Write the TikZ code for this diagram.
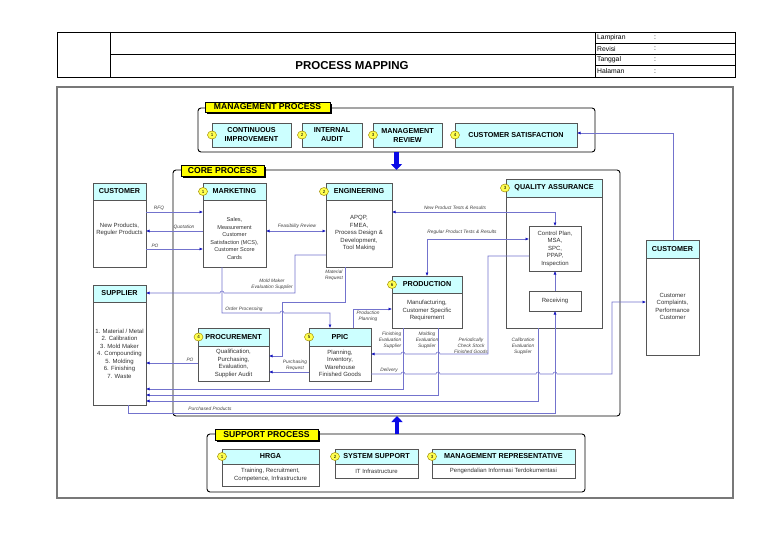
\documentclass[tikz,border=0pt]{standalone}
\usepackage{fontspec}
\setmainfont{Liberation Sans}
\usetikzlibrary{arrows.meta,shapes.geometric,shadows}
\definecolor{hdrcyan}{RGB}{204,255,255}
\definecolor{boxgray}{RGB}{85,85,85}
\definecolor{linecol}{RGB}{115,115,205}
\definecolor{arrblue}{RGB}{20,20,190}
\definecolor{numfill}{RGB}{255,255,80}
\definecolor{numborder}{RGB}{160,140,0}
\definecolor{labyellow}{RGB}{255,255,0}
\definecolor{bigblue}{RGB}{10,10,230}
\definecolor{framegray}{RGB}{120,120,120}
\newcommand\fsz[2]{\fontsize{#1}{#2}\selectfont}
\begin{document}
\begin{tikzpicture}[x=1pt,y=-1pt,
  hdr/.style={draw=boxgray, line width=0.8pt, fill=hdrcyan, font=\bfseries\fsz{7.2}{8.5}, inner sep=0pt, outer sep=0pt, align=center},
  bodyb/.style={draw=boxgray, line width=0.8pt, fill=white, font=\fsz{6}{7.5}, text=black!80, inner sep=0pt, outer sep=0pt, align=center},
  mbox/.style={draw=boxgray, line width=0.8pt, fill=hdrcyan, font=\bfseries\fsz{7.2}{9}, inner sep=0pt, outer sep=0pt, align=center},
  container/.style={draw=black, line width=0.9pt, rounded corners=3pt, inner sep=0pt, outer sep=0pt},
  lab/.style={draw=black, line width=0.6pt, fill=labyellow, font=\bfseries\fsz{8.6}{9}, inner sep=0pt, outer sep=0pt,
     drop shadow={shadow xshift=1.6pt, shadow yshift=-1.6pt, fill=black, opacity=1}},
  numc/.style={ellipse, draw=numborder, line width=0.5pt, fill=numfill, minimum width=9pt, minimum height=8pt, inner sep=0pt, font=\fsz{4.5}{5}},
  clabel/.style={font=\itshape\fsz{4.8}{5.9}, text=black!75, inner sep=0pt, align=center},
  conn/.style={draw=linecol, line width=0.55pt},
  arr/.style={-{Latex[length=3.5pt,width=3pt,color=arrblue]}},
  darr/.style={{Latex[length=3.5pt,width=3pt,color=arrblue]}-{Latex[length=3.5pt,width=3pt,color=arrblue]}},
  bigarr/.style={draw=bigblue, line width=4.5pt, -{Triangle[length=6pt,width=11pt,color=bigblue]}},
  htext/.style={font=\fsz{6.8}{7}, inner sep=0pt, anchor=west}
]
\useasboundingbox (0,0) rectangle (768,543);
\fill[white] (0,0) rectangle (768,543);

% ---------- header table ----------
\draw[line width=0.8pt] (57,32) rectangle (735,77);
\draw[line width=0.8pt] (110,32) -- (110,77);
\draw[line width=0.8pt] (595,32) -- (595,77);
\draw[line width=0.8pt] (110,54.5) -- (595,54.5);
\draw[line width=0.6pt] (595,43) -- (735,43) (595,54.5) -- (735,54.5) (595,65.5) -- (735,65.5);
\node[htext] (t-lam) at (597,37.5) {Lampiran};
\node[htext] (t-rev) at (597,48.75) {Revisi};
\node[htext] (t-tgl) at (597,60) {Tanggal};
\node[htext] (t-hal) at (597,71.25) {Halaman};
\node[htext] (c-lam) at (654,37.5) {:};
\node[htext] (c-rev) at (654,48.75) {:};
\node[htext] (c-tgl) at (654,60) {:};
\node[htext] (c-hal) at (654,71.25) {:};
\node[font=\bfseries\fsz{11.5}{12}, inner sep=0pt] (title) at (352,66) {PROCESS MAPPING};

% ---------- outer frame ----------
\draw[framegray, line width=1.2pt] (57,87) rectangle (733,498);

% ---------- containers ----------
\node[container, minimum width=397pt, minimum height=44pt] (mgmtbox) at (396.5,130) {};
\node[container, minimum width=447pt, minimum height=246pt] (core) at (396.5,293) {};
\node[container, minimum width=378pt, minimum height=58pt] (supbox) at (396,463) {};
\node[lab, minimum width=125pt, minimum height=10pt] (mlab) at (267.5,107) {MANAGEMENT PROCESS};
\node[lab, minimum width=83pt, minimum height=11pt] (clab) at (222.5,170.5) {CORE PROCESS};
\node[lab, minimum width=103pt, minimum height=11pt] (slab) at (266.5,434.5) {SUPPORT PROCESS};

% big arrows
\draw[bigarr] (mgmtbox.south -| 396.5,0) -- (core.north -| 396.5,0);
\draw[bigarr] (supbox.north -| 397,0) -- (core.south -| 397,0);

% ---------- management process ----------
\node[mbox, minimum width=79pt, minimum height=24pt] (ci) at (251.5,135) {CONTINUOUS\\IMPROVEMENT};
\node[mbox, minimum width=60pt, minimum height=24pt] (ia) at (332,135) {INTERNAL\\AUDIT};
\node[mbox, minimum width=69pt, minimum height=24pt] (mr) at (407.5,135) {MANAGEMENT\\REVIEW};
\node[mbox, minimum width=122pt, minimum height=24pt] (cs) at (516,135) {CUSTOMER SATISFACTION};
\node[numc] (n-ci) at (212,135) {1};
\node[numc] (n-ia) at (302,135) {2};
\node[numc] (n-mr) at (373,135) {3};
\node[numc] (n-cs) at (455,135) {4};

% ---------- core process boxes ----------
\node[hdr, minimum width=53pt, minimum height=17pt] (custLh) at (119.5,191.5) {CUSTOMER};
\node[bodyb, minimum width=53pt, minimum height=67pt] (custL) at (119.5,233.5) {New Products,\\Reguler Products\\[2pt]};

\node[hdr, minimum width=63pt, minimum height=17pt] (mkth) at (234.5,191.5) {MARKETING};
\node[bodyb, minimum width=63pt, minimum height=67pt, font=\fsz{5.6}{7.5}] (mkt) at (234.5,233.5) {\\[7pt]Sales,\\Measurement\\Customer\\Satisfaction (MCS),\\Customer Score\\Cards};
\node[numc] (n-mkt) at (203,191.5) {1};

\node[hdr, minimum width=66pt, minimum height=17pt] (engh) at (359,191.5) {ENGINEERING};
\node[bodyb, minimum width=66pt, minimum height=67pt] (eng) at (359,233.5) {APQP,\\FMEA,\\Process Design \&\\Development,\\Tool Making};
\node[numc] (n-eng) at (324,191.5) {2};

\node[hdr, minimum width=96pt, minimum height=18pt] (qah) at (554,188) {QUALITY ASSURANCE};
\node[bodyb, minimum width=96pt, minimum height=131pt] (qa) at (554,262.5) {};
\node[numc] (n-qa) at (505,188) {3};
\node[bodyb, minimum width=52pt, minimum height=45pt] (cp) at (555,248.5) {Control Plan,\\MSA,\\SPC,\\PPAP,\\Inspection};
\node[bodyb, minimum width=52pt, minimum height=20pt] (recv) at (555,301) {Receiving};

\node[hdr, minimum width=70pt, minimum height=17pt] (prodh) at (427,284.5) {PRODUCTION};
\node[bodyb, minimum width=70pt, minimum height=35pt] (prod) at (427,310.5) {Manufacturing,\\Customer Specific\\Requirement};
\node[numc] (n-prod) at (392,284.5) {6};

\node[hdr, minimum width=53pt, minimum height=18pt] (custRh) at (672.5,249) {CUSTOMER};
\node[bodyb, minimum width=53pt, minimum height=97pt] (custR) at (672.5,306.5) {Customer\\Complaints,\\Performance\\Customer};

\node[hdr, minimum width=53pt, minimum height=17pt] (supph) at (119.5,293.5) {SUPPLIER};
\node[bodyb, minimum width=53pt, minimum height=103pt] (supp) at (119.5,353.5) {1. Material / Metal\\2. Calibration\\3. Mold Maker\\4. Compounding\\5. Molding\\6. Finishing\\7. Waste};

\node[hdr, minimum width=71pt, minimum height=18pt] (proch) at (233.5,337) {PROCUREMENT};
\node[bodyb, minimum width=71pt, minimum height=35pt] (proc) at (233.5,363.5) {Qualification,\\Purchasing,\\Evaluation,\\Supplier Audit};
\node[numc] (n-proc) at (198.5,337) {4};

\node[hdr, minimum width=62pt, minimum height=18pt] (ppich) at (340,337) {PPIC};
\node[bodyb, minimum width=62pt, minimum height=35pt] (ppic) at (340,363.5) {Planning,\\Inventory,\\Warehouse\\Finished Goods};
\node[numc] (n-ppic) at (309,337) {5};

% ---------- support process ----------
\node[hdr, minimum width=97pt, minimum height=15pt] (hrgah) at (270.5,456.5) {HRGA};
\node[bodyb, minimum width=97pt, minimum height=22pt] (hrga) at (270.5,475) {Training, Recruitment,\\Competence, Infrastructure};
\node[numc] (n-hrga) at (222,456.5) {1};
\node[hdr, minimum width=83pt, minimum height=15pt] (ssh) at (376.5,456.5) {SYSTEM SUPPORT};
\node[bodyb, minimum width=83pt, minimum height=14pt] (ss) at (376.5,471) {IT Infrastructure};
\node[numc] (n-ss) at (335,456.5) {2};
\node[hdr, minimum width=143pt, minimum height=15pt] (mrh) at (503.5,456.5) {MANAGEMENT REPRESENTATIVE};
\node[bodyb, minimum width=143pt, minimum height=14pt] (mrep) at (503.5,471) {Pengendalian Informasi Terdokumentasi};
\node[numc] (n-mrep) at (432,456.5) {3};

% ---------- connectors ----------
\draw[conn,arr] (custL.east |- 0,212) -- (mkt.west |- 0,212);
\draw[conn,arr] (mkt.west |- 0,231) -- (custL.east |- 0,231);
\draw[conn,arr] (custL.east |- 0,249) -- (mkt.west |- 0,249);
\draw[conn,darr] (mkt.east |- 0,231) -- (eng.west |- 0,231);
\draw[conn,darr] (eng.east |- 0,212) -- (555,212) -- (cp.north);
\draw[conn,darr] (cp.west |- 0,239) -- (427,239) -- (prodh.north -| 427,0);
\draw[conn,arr] (cp.west |- 0,256) -- (488,256) -- (488,354) -- (440,354)
   arc[start angle=0,end angle=-180,radius=2] -- (405,354)
   arc[start angle=0,end angle=-180,radius=2] -- (ppic.east |- 0,354);
\draw[conn,arr] (recv.north) -- (cp.south);
\draw[conn,arr] (eng.west |- 0,255) -- (295,255) -- (295,293) -- (224,293)
   arc[start angle=0,end angle=-180,radius=2] -- (supph.east |- 0,293);
\draw[conn,arr] (mkt.south -| 222,0) -- (222,313) -- (280,313)
   arc[start angle=180,end angle=360,radius=2] -- (330,313) -- (ppich.north -| 330,0);
\draw[conn,arr] (eng.south -| 345,0) -- (345,302) -- (282,302) -- (282,356) -- (proc.east |- 0,356);
\draw[conn,arr] (ppich.north -| 353,0) -- (353,309) -- (prod.west |- 0,309);
\draw[conn,arr] (proc.west |- 0,363) -- (supp.east |- 0,363);
\draw[conn,arr] (ppic.west |- 0,372) -- (proc.east |- 0,372);
\draw[conn,arr] (prod.south -| 403,0) -- (403,389) -- (supp.east |- 0,389);
\draw[conn,arr] (prod.south -| 438,0) -- (438,395) -- (supp.east |- 0,395);
\draw[conn,arr] (qa.south -| 538,0) -- (538,401) -- (supp.east |- 0,401);
\draw[conn,arr] (ppic.east |- 0,374) -- (401,374)
   arc[start angle=180,end angle=360,radius=2] -- (436,374)
   arc[start angle=180,end angle=360,radius=2] -- (536,374)
   arc[start angle=180,end angle=360,radius=2] -- (553,374)
   arc[start angle=180,end angle=360,radius=2] -- (612,374) -- (612,302) -- (custR.west |- 0,302);
\draw[conn,arr] (supp.south -| 128,0) -- (128,413) -- (555,413) -- (recv.south);
\draw[conn,arr] (custRh.north -| 673,0) -- (673,133) -- (cs.east |- 0,133);

% ---------- connector labels ----------
\node[clabel] (l-rfq) at (159,208.5) {RFQ};
\node[clabel] (l-quo) at (184,227) {Quotation};
\node[clabel] (l-po1) at (155,245.5) {PO};
\node[clabel] (l-fea) at (297,226.5) {Feasibility Review};
\node[clabel] (l-npt) at (455,208) {New Product Tests \& Results};
\node[clabel] (l-rpt) at (462,232) {Regular Product Tests \& Results};
\node[clabel] (l-mme) at (272,284.5) {Mold Maker\\Evaluation Supplier};
\node[clabel] (l-mat) at (334,275) {Material\\Request};
\node[clabel] (l-ord) at (244,309.5) {Order Processing};
\node[clabel] (l-ppl) at (368,316.5) {Production\\Planning};
\node[clabel] (l-po2) at (190,359.5) {PO};
\node[clabel] (l-pur) at (295,365.5) {Purchasing\\Request};
\node[clabel, anchor=east, align=right] (l-fin) at (401.5,340) {Finishing\\Evaluation\\Supplier};
\node[clabel] (l-mol) at (427,340) {Molding\\Evaluation\\Supplier};
\node[clabel] (l-per) at (471,346) {Periodically\\Check Stock\\Finished Goods};
\node[clabel] (l-cal) at (523,346) {Calibration\\Evaluation\\Supplier};
\node[clabel] (l-del) at (389,370) {Delivery};
\node[clabel] (l-pp) at (210,408.5) {Purchased Products};
\end{tikzpicture}
\end{document}
